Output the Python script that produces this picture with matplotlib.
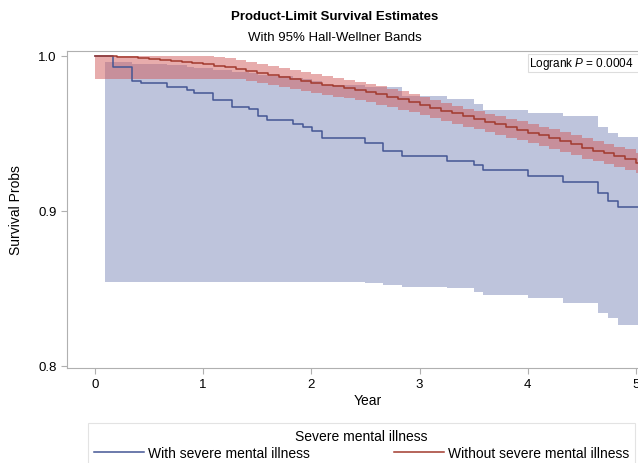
import matplotlib
matplotlib.use("Agg")
import matplotlib.pyplot as plt
from matplotlib.lines import Line2D
from matplotlib.patches import Rectangle

plt.rcParams['font.family'] = ['Liberation Sans', 'DejaVu Sans']
plt.rcParams['mathtext.fontset'] = 'custom'
plt.rcParams['mathtext.it'] = 'Liberation Sans:italic'
plt.rcParams['mathtext.rm'] = 'Liberation Sans'

# ---- data: with severe mental illness (KM steps) ----
smi_time = [0.0, 0.164, 0.339, 0.425, 0.665, 0.848, 0.915, 1.088, 1.263, 1.423,
            1.506, 1.587, 1.833, 1.920, 2.003, 2.095, 2.495, 2.665, 2.840, 3.256,
            3.503, 3.583, 4.005, 4.328, 4.652, 4.744, 4.836, 5.06]
smi_surv = [1.0, 0.9927, 0.9841, 0.9826, 0.9802, 0.9783, 0.9759, 0.9718, 0.9671, 0.9656,
            0.9615, 0.9587, 0.9561, 0.9540, 0.9518, 0.9469, 0.9437, 0.9389, 0.9357, 0.9325,
            0.9297, 0.9265, 0.9228, 0.9189, 0.9116, 0.9066, 0.9024, 0.9024]
smi_band_time = [0.09] + smi_time[1:]
smi_upper = [0.996, 0.996, 0.995, 0.995, 0.994, 0.993, 0.992, 0.991, 0.990, 0.989,
             0.988, 0.987, 0.986, 0.985, 0.984, 0.981, 0.980, 0.9798, 0.9745, 0.972,
             0.969, 0.9650, 0.963, 0.961, 0.954, 0.9505, 0.9475, 0.9475]
smi_lower = [0.8545, 0.8545, 0.8545, 0.8545, 0.8545, 0.8545, 0.8545, 0.8545, 0.8545, 0.8545,
             0.8545, 0.8545, 0.8545, 0.8545, 0.8545, 0.8540, 0.8533, 0.8523, 0.8508, 0.8501,
             0.8479, 0.8458, 0.8437, 0.8405, 0.8340, 0.8308, 0.8266, 0.8266]

# ---- data: without severe mental illness ----
no_time = [0.0, 0.1, 0.2, 0.3, 0.4, 0.5, 0.6, 0.7, 0.8, 0.9,
           1.0, 1.1, 1.2, 1.3, 1.4, 1.5, 1.6, 1.7, 1.8, 1.9,
           2.0, 2.1, 2.2, 2.3, 2.4, 2.5, 2.6, 2.7, 2.8, 2.9,
           3.0, 3.1, 3.2, 3.3, 3.4, 3.5, 3.6, 3.7, 3.8, 3.9,
           4.0, 4.1, 4.2, 4.3, 4.4, 4.5, 4.6, 4.7, 4.8, 4.9, 5.0, 5.06]
no_surv = [1.0, 0.9998, 0.9995, 0.9991, 0.9986, 0.9981, 0.9976, 0.9969, 0.9962, 0.9954,
           0.9946, 0.9937, 0.9928, 0.9918, 0.9906, 0.9893, 0.9880, 0.9866, 0.9853, 0.9840,
           0.9829, 0.9816, 0.9804, 0.9793, 0.9781, 0.9768, 0.9753, 0.9737, 0.9720, 0.9703,
           0.9685, 0.9666, 0.9648, 0.9630, 0.9612, 0.9595, 0.9577, 0.9560, 0.9542, 0.9524,
           0.9505, 0.9488, 0.9470, 0.9450, 0.9430, 0.9408, 0.9390, 0.9372, 0.9353, 0.9333,
           0.9312, 0.9305]
no_upper = [1.0, 1.0, 1.0, 1.0, 1.0, 1.0, 1.0, 1.0, 1.0, 1.0,
            1.0, 0.9993, 0.9984, 0.9974, 0.9962, 0.9949, 0.9936, 0.9922, 0.9909, 0.9896,
            0.9885, 0.9871, 0.9859, 0.9847, 0.9835, 0.9822, 0.9806, 0.9789, 0.9771, 0.9753,
            0.9733, 0.9714, 0.9696, 0.9678, 0.9661, 0.9645, 0.9628, 0.9612, 0.9595, 0.9578,
            0.9560, 0.9544, 0.9527, 0.9508, 0.9489, 0.9468, 0.9451, 0.9434, 0.9416, 0.9397,
            0.9377, 0.9370]
no_lower = [0.9852, 0.9852, 0.9852, 0.9852, 0.9852, 0.9852, 0.9852, 0.9852, 0.9852, 0.9852,
            0.9852, 0.9852, 0.9852, 0.9850, 0.9838, 0.9825, 0.9812, 0.9798, 0.9785, 0.9773,
            0.9763, 0.9750, 0.9738, 0.9727, 0.9715, 0.9702, 0.9686, 0.9670, 0.9653, 0.9636,
            0.9617, 0.9598, 0.9580, 0.9562, 0.9544, 0.9527, 0.9509, 0.9491, 0.9473, 0.9455,
            0.9436, 0.9418, 0.9400, 0.9380, 0.9360, 0.9338, 0.9320, 0.9302, 0.9283, 0.9263,
            0.9245, 0.9240]

x_ticks = [0, 1, 2, 3, 4, 5]
y_ticks = [0.8, 0.9, 1.0]
y_ticklabels = ['0.8', '0.9', '1.0']

title = 'Product-Limit Survival Estimates'
subtitle = 'With 95% Hall-Wellner Bands'
group_labels = ['With severe mental illness', 'Without severe mental illness']
legend_title = 'Severe mental illness'
logrank_text = 'Logrank $P$ = 0.0004'

blue = '#445694'
red = '#A23A2E'
blue_fill = '#6F7EB3'
red_fill = '#D05B5B'
gray = '#B0B0B0'

W, H = 638, 464
fig = plt.figure(figsize=(W / 100, H / 100), dpi=100)
AX_L, AX_R, AX_T, AX_B = 67, 669, 52, 369
ax = fig.add_axes([AX_L / W, 1 - AX_B / H, (AX_R - AX_L) / W, (AX_B - AX_T) / H])

ax.fill_between(smi_band_time, smi_lower, smi_upper, step='post',
                color=blue_fill, alpha=0.45, linewidth=0)
ax.fill_between(no_time, no_lower, no_upper, step='post',
                color=red_fill, alpha=0.5, linewidth=0)
ax.step(smi_time, smi_surv, where='post', color=blue, linewidth=1.1)
ax.step(no_time, no_surv, where='post', color=red, linewidth=1.1)

ax.set_xlim(-0.2588, -0.2588 + (AX_R - AX_L) / 108.2)
ax.set_ylim(0.8 - 2 / 1550, 1.0 + 5 / 1550)
ax.set_xticks(x_ticks)
ax.set_yticks(y_ticks)
ax.set_yticklabels(y_ticklabels)
ax.tick_params(axis='both', colors=gray, labelcolor='black', labelsize=9.5,
               length=4, width=0.8, direction='out')
for s in ax.spines.values():
    s.set_color(gray)
    s.set_linewidth(0.8)
ax.set_xlabel('Year', fontsize=10, labelpad=2)
ax.set_ylabel('Survival Probs', fontsize=10, labelpad=11)

fig.text(0.525, 1 - 17 / H, title, ha='center', va='center',
         fontsize=9.5, fontweight='bold')
fig.text(0.525, 1 - 38 / H, subtitle, ha='center', va='center', fontsize=9.5)

# logrank inset (box runs off the cropped right edge, as in the reference)
fig.patches.append(Rectangle((528 / W, 1 - 73 / H), 140 / W, 18 / H,
                             transform=fig.transFigure, facecolor='white',
                             edgecolor='#DDDDDD', linewidth=0.8, zorder=5))
fig.text(634 / W, 1 - 64.5 / H, logrank_text, ha='right', va='center',
         fontsize=8.5, zorder=6)

handles = [Line2D([], [], color=blue, linewidth=1.1),
           Line2D([], [], color=red, linewidth=1.1)]
leg = fig.legend(handles, group_labels, title=legend_title, ncol=2,
                 loc='upper left', bbox_to_anchor=(88 / W, 1 - 424 / H),
                 fontsize=10, title_fontsize=10, frameon=True, fancybox=False,
                 handlelength=3.6, handletextpad=0.3, columnspacing=6.0,
                 borderpad=0.45, labelspacing=0.2, borderaxespad=0)
leg.get_frame().set_edgecolor('#DDDDDD')
leg.get_frame().set_linewidth(0.8)

fig.savefig('out.png', dpi=100)
